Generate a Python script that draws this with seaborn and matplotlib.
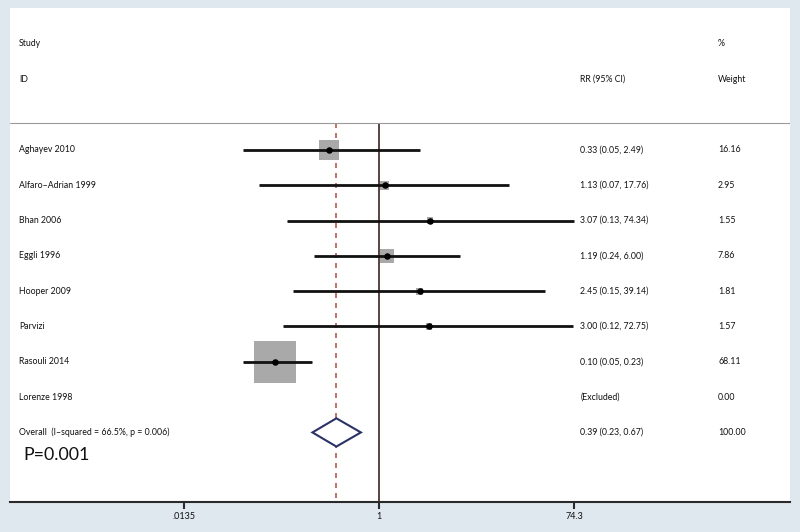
import numpy as np
import pandas as pd
import matplotlib
matplotlib.use("Agg")
import matplotlib.pyplot as plt
import seaborn as sns
from matplotlib.patches import Polygon

# data
studies = ["Aghayev 2010", "Alfaro\u2013Adrian 1999", "Bhan 2006", "Eggli 1996",
           "Hooper 2009", "Parvizi", "Rasouli 2014", "Lorenze 1998"]
rr = [0.33, 1.13, 3.07, 1.19, 2.45, 3.00, 0.10, np.nan]
ci_low = [0.05, 0.07, 0.13, 0.24, 0.15, 0.12, 0.05, np.nan]
ci_high = [2.49, 17.76, 74.34, 6.00, 39.14, 72.75, 0.23, np.nan]
weights = [16.16, 2.95, 1.55, 7.86, 1.81, 1.57, 68.11, 0.00]
rr_labels = ["0.33 (0.05, 2.49)", "1.13 (0.07, 17.76)", "3.07 (0.13, 74.34)",
             "1.19 (0.24, 6.00)", "2.45 (0.15, 39.14)", "3.00 (0.12, 72.75)",
             "0.10 (0.05, 0.23)", "(Excluded)"]
weight_labels = ["16.16", "2.95", "1.55", "7.86", "1.81", "1.57", "68.11", "0.00"]

overall_label = "Overall  (I\u2013squared = 66.5%, p = 0.006)"
overall_rr = 0.39
overall_low = 0.23
overall_high = 0.67
overall_rr_label = "0.39 (0.23, 0.67)"
overall_weight_label = "100.00"
p_text = "P=0.001"

tick_values = [0.0135, 1, 74.3]
tick_labels = [".0135", "1", "74.3"]

sns.set_theme(style="white")
plt.rcParams["font.family"] = ["Lato", "DejaVu Sans"]

bg = "#dfe7ef"
fig = plt.figure(figsize=(8, 5.32), dpi=100, facecolor=bg)
ax = fig.add_axes([0.0125, 0.0564, 0.975, 0.9286])
ax.set_facecolor("white")

df = pd.DataFrame({
    "study": studies, "rr": rr, "lo": ci_low, "hi": ci_high,
    "weight": weights, "row": np.arange(1, len(studies) + 1),
})
valid = df.dropna()
overall_row = len(studies) + 1

ax.set_xscale("log")
ax.set_xlim(2.9e-4, 8700)
ax.set_ylim(10.97, -3.02)

sep_row = 0.24
# reference lines
ax.vlines(1, sep_row, 10.97, color="#4a3530", lw=1.3, zorder=1)
ax.vlines(overall_rr, sep_row, 10.97, color="#b5584f", lw=1.2,
          linestyles=(0, (3, 3)), zorder=1)
ax.axhline(sep_row, color="#9a9a9a", lw=0.8, zorder=1)

# weight squares
sns.scatterplot(data=valid, x="rr", y="row", size="weight", sizes=(0, 1350),
                size_norm=(0, 100), marker="s", color="#a9a9a9",
                linewidth=0, legend=False, ax=ax, zorder=2)
# confidence intervals
ax.hlines(valid["row"], valid["lo"], valid["hi"], color="#111111", lw=2, zorder=3)
# point estimates
sns.scatterplot(data=valid, x="rr", y="row", color="black", s=22,
                linewidth=0, legend=False, ax=ax, zorder=4)

# overall diamond
diamond = Polygon([(overall_low, overall_row), (overall_rr, overall_row - 0.4),
                   (overall_high, overall_row), (overall_rr, overall_row + 0.4)],
                  closed=True, facecolor="white", edgecolor="#2b3266",
                  lw=1.5, zorder=5)
ax.add_patch(diamond)

# text columns
tr = ax.get_yaxis_transform()
txt = dict(fontsize=6.3, color="#111111", va="center", transform=tr)
x_study, x_rr, x_w = 0.0115, 0.731, 0.9077
ax.text(x_study, -2, "Study", **txt)
ax.text(x_study, -1, "ID", **txt)
ax.text(x_rr, -1, "RR (95% CI)", **txt)
ax.text(x_w, -2, "%", **txt)
ax.text(x_w, -1, "Weight", **txt)
for i, name in enumerate(studies):
    ax.text(x_study, i + 1, name, **txt)
    ax.text(x_rr, i + 1, rr_labels[i], **txt)
    ax.text(x_w, i + 1, weight_labels[i], **txt)
ax.text(x_study, overall_row, overall_label, **txt)
ax.text(x_rr, overall_row, overall_rr_label, **txt)
ax.text(x_w, overall_row, overall_weight_label, **txt)
ax.text(0.0175, overall_row + 0.65, p_text, fontsize=12.8, color="#111111",
        va="center", transform=tr)

# axes styling
for side in ["top", "right", "left"]:
    ax.spines[side].set_visible(False)
ax.spines["bottom"].set_color("#2a2a2a")
ax.spines["bottom"].set_linewidth(1.5)
ax.set_yticks([])
ax.set_xticks(tick_values)
ax.set_xticklabels(tick_labels)
ax.minorticks_off()
ax.tick_params(axis="x", direction="out", length=5, width=1.5, color="#2a2a2a",
               labelsize=6.5, labelcolor="#111111", pad=2, bottom=True)
ax.set_xlabel("")
ax.set_ylabel("")

fig.savefig("out.png", dpi=100, facecolor=bg)
